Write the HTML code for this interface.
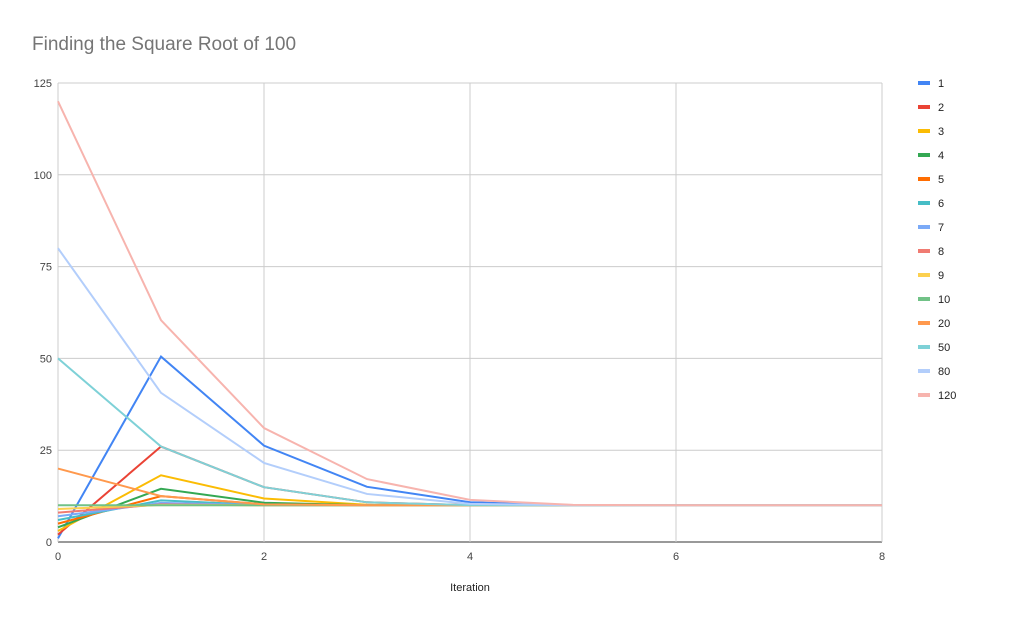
<!DOCTYPE html>
<html><head><meta charset="utf-8"><style>
body{margin:0;background:#fff;font-family:"Liberation Sans",Arial,sans-serif;}
svg text{font-family:"Liberation Sans",Arial,sans-serif;}
</style></head><body>
<svg id="chart" width="1009" height="626" xmlns="http://www.w3.org/2000/svg">
<rect width="1009" height="626" fill="#fff"/>
<text x="32" y="50" font-size="19" fill="#757575">Finding the Square Root of 100</text>
<g id="grid"></g><g id="series"></g><g id="legend"></g>
<text x="470" y="591" font-size="11" fill="#222" text-anchor="middle">Iteration</text>
</svg>
<script>
const seriesNames=["1","2","3","4","5","6","7","8","9","10","20","50","80","120"];
const colors=["#4285f4","#ea4335","#fbbc04","#34a853","#ff6d01","#46bdc6","#7baaf7","#f07b72","#fcd04f","#71c287","#ff994d","#7ed1d7","#b3cefb","#f7b4ae"];
const xTicks=[0,2,4,6,8];
const yTicks=[0,25,50,75,100,125];
const s1=[1,50.5,26.24,15.03,10.84,10.03,10,10,10];
const s2=[2,26,14.92,10.81,10.03,10,10,10,10];
const s3=[3,18.17,11.84,10.14,10,10,10,10,10];
const s4=[4,14.5,10.7,10.02,10,10,10,10,10];
const s5=[5,12.5,10.25,10,10,10,10,10,10];
const s6=[6,11.33,10.08,10,10,10,10,10,10];
const s7=[7,10.64,10.02,10,10,10,10,10,10];
const s8=[8,10.25,10,10,10,10,10,10,10];
const s9=[9,10.06,10,10,10,10,10,10,10];
const s10=[10,10,10,10,10,10,10,10,10];
const s20=[20,12.5,10.25,10,10,10,10,10,10];
const s50=[50,26,14.92,10.81,10.03,10,10,10,10];
const s80=[80,40.63,21.54,13.09,10.37,10.01,10,10,10];
const s120=[120,60.42,31.04,17.13,11.48,10.1,10,10,10];
const allSeries=[s1,s2,s3,s4,s5,s6,s7,s8,s9,s10,s20,s50,s80,s120];
const NS="http://www.w3.org/2000/svg";
const X0=58,X1=882,Y0=542,Y1=83;
const xs=v=>X0+(X1-X0)*v/8;
const ys=v=>Y0-(Y0-Y1)*v/125;
function mk(t,a,p){const e=document.createElementNS(NS,t);for(const k in a)e.setAttribute(k,a[k]);p.appendChild(e);return e;}
const g=document.getElementById('grid');
yTicks.forEach(v=>{
 const l=mk('line',{x1:X0,x2:X1,y1:ys(v),y2:ys(v),stroke:v===0?'#333':'#ccc','stroke-width':1},g);
 
 
 const t=mk('text',{x:52,y:ys(v)+4,'font-size':11,fill:'#444','text-anchor':'end'},g);t.textContent=v;
 
 
});
xTicks.forEach(v=>{
 const l=mk('line',{x1:xs(v),x2:xs(v),y1:Y1,y2:Y0,stroke:'#ccc','stroke-width':1},g);
 
 
 const t=mk('text',{x:xs(v),y:560,'font-size':11,fill:'#444','text-anchor':'middle'},g);t.textContent=v;
 
 
});
const sg=document.getElementById('series');
const lg=document.getElementById('legend');
allSeries.forEach((d,i)=>{
 const p=mk('polyline',{points:d.map((v,j)=>xs(j)+','+ys(v)).join(' '),fill:'none',stroke:colors[i],'stroke-width':2},sg);
 
 
 const y=83+i*24;
 const r=mk('rect',{x:918,y:y-2,width:12,height:4,fill:colors[i]},lg);
 
 
 const t=mk('text',{x:938,y:y+4,'font-size':11,fill:'#222'},lg);t.textContent=seriesNames[i];
 
 
});
</script>
</body></html>
